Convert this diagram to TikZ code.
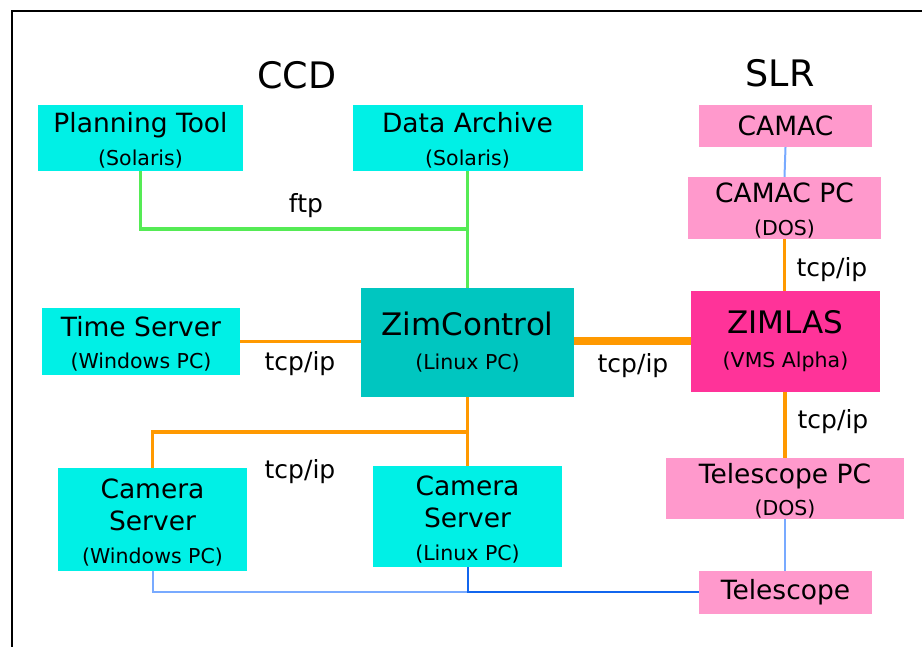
\documentclass[tikz,border=0pt]{standalone}
\usepackage{fontspec}
\setmainfont{DejaVu Sans}

\definecolor{ccdfill}{RGB}{0,240,230}
\definecolor{zimfill}{RGB}{0,198,192}
\definecolor{slrfill}{RGB}{255,153,204}
\definecolor{zimlasfill}{RGB}{255,51,153}
\definecolor{tcporange}{RGB}{255,153,0}
\definecolor{ftpgreen}{RGB}{85,235,85}
\definecolor{buslight}{RGB}{120,170,255}
\definecolor{busdark}{RGB}{17,102,238}

\newcommand\bigtxt{\fontsize{26.5}{32.5}\selectfont}
\newcommand\subtxt{\fontsize{20.5}{32.5}\selectfont}
\newcommand\zimtxt{\fontsize{31}{34}\selectfont}
\newcommand\zimsub{\fontsize{20.5}{34}\selectfont}
% taller first line pushes a text block a little lower in its box
\newcommand\topstrut{\rule{0pt}{25pt}}

\begin{document}
\begin{tikzpicture}[x=1pt,y=-1pt,
  box/.style={inner sep=0pt, align=center, font=\subtxt},
  ccdbox/.style={box, fill=ccdfill},
  slrbox/.style={box, fill=slrfill},
  title/.style={font=\fontsize{36.5}{40}\selectfont},
  lbl/.style={font=\fontsize{25}{28}\selectfont, inner sep=0pt},
  tcp/.style={draw=tcporange, line width=3.5pt},
  tcpthick/.style={draw=tcporange, line width=8pt},
  ftp/.style={draw=ftpgreen, line width=3.5pt},
  buslt/.style={draw=buslight, line width=2pt},
  busdk/.style={draw=busdark, line width=2pt}]

\useasboundingbox (0,0) rectangle (922,647);
\fill[white] (0,0) rectangle (922,647);

% outer frame, running past the right and bottom edges
\begin{scope}
  \clip (0,0) rectangle (922,647);
  \draw[line width=2.2pt] (12,11) rectangle (940,665);
\end{scope}

% section titles
\node[title] (ccdtitle) at (297,75) {CCD};
\node[title] (slrtitle) at (780,73) {SLR};

% CCD side
\node[ccdbox, minimum width=205pt, minimum height=66pt] (plan) at (140.5,138)
  {\bigtxt\topstrut Planning Tool\\\subtxt (Solaris)};
\node[ccdbox, minimum width=230pt, minimum height=66pt] (arch) at (467.5,138)
  {\bigtxt\topstrut Data Archive\\\subtxt (Solaris)};
\node[ccdbox, minimum width=198pt, minimum height=67pt] (time) at (141,341.5)
  {\bigtxt\topstrut Time Server\\\subtxt (Windows PC)};
\node[box, fill=zimfill, minimum width=213pt, minimum height=109pt, font=\zimsub] (zim) at (467.5,342.5)
  {\zimtxt ZimControl\\\zimsub (Linux PC)};
\node[ccdbox, minimum width=189pt, minimum height=103pt] (camw) at (152.5,519.5)
  {\bigtxt\topstrut Camera\\\bigtxt Server\\\subtxt (Windows PC)};
\node[ccdbox, minimum width=189pt, minimum height=101pt] (caml) at (467.5,516.5)
  {\bigtxt\topstrut Camera\\\bigtxt Server\\\subtxt (Linux PC)};

% SLR side
\node[slrbox, minimum width=173pt, minimum height=42pt] (camac) at (785.5,126)
  {\bigtxt CAMAC};
\node[slrbox, minimum width=193pt, minimum height=62pt] (camacpc) at (784.5,208)
  {\bigtxt\topstrut CAMAC PC\\\subtxt (DOS)};
\node[box, fill=zimlasfill, minimum width=189pt, minimum height=101pt, font=\zimsub] (zimlas) at (785.5,341.5)
  {\zimtxt ZIMLAS\\\zimsub (VMS Alpha)};
\node[slrbox, minimum width=238pt, minimum height=61pt] (telpc) at (785,488.5)
  {\bigtxt\topstrut Telescope PC\\\subtxt (DOS)};
\node[slrbox, minimum width=173pt, minimum height=43pt] (tel) at (785.5,592.5)
  {\bigtxt Telescope};

% junction points
\coordinate (ftpj) at (467.5,229);
\coordinate (camj) at (467.5,432);
\coordinate (busj) at (467.5,592);

% ftp links
\draw[ftp] (plan.south) |- (ftpj);
\draw[ftp] (arch.south) -- (zim.north);

% tcp/ip links
\draw[tcp] (time.east) -- (time.east -| zim.west);
\draw[tcpthick] (zimlas.west -| zim.east) -- (zimlas.west);
\draw[tcp] (zim.south) -- (caml.north);
\draw[tcp] (camj) -| (camw.north);
\draw[tcp] (camacpc.south) -- (camacpc.south |- zimlas.north);
\draw[tcp] (telpc.north |- zimlas.south) -- (telpc.north);

% serial lines
\draw[buslt] (camac.south) -- (camacpc.north);
\draw[buslt] (telpc.south) -- (telpc.south |- tel.north);
\draw[buslt] (camw.south) |- (busj);
\draw[busdk] (caml.south) -- (busj) -- (busj -| tel.west);

% link labels
\node[lbl] (lftp) at (306,206) {ftp};
\node[lbl] (ltime) at (300,364) {tcp/ip};
\node[lbl] (lzim) at (633,366) {tcp/ip};
\node[lbl] (lcamac) at (832,270) {tcp/ip};
\node[lbl] (ltel) at (833,422) {tcp/ip};
\node[lbl] (lcam) at (300,472) {tcp/ip};

\end{tikzpicture}
\end{document}
